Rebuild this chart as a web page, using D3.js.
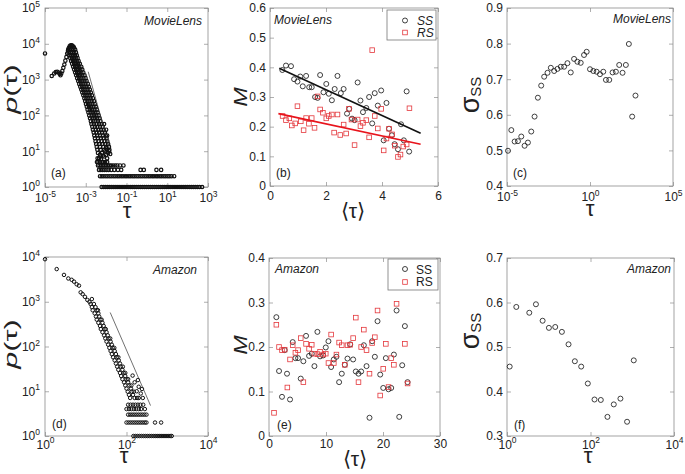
<!DOCTYPE html>
<html><head><meta charset="utf-8">
<script src="https://cdn.jsdelivr.net/npm/d3@7"></script>
<style>body{margin:0;background:#fff;} svg{display:block;} text{font-family:"Liberation Sans",Arial,Helvetica,sans-serif;fill:#222;}</style>
</head><body><svg id="chart" width="685" height="474"></svg>
<script>
// ---------------- DATA ----------------
// (a) MovieLens p(tau): values stored as log10 exponents
const aSparseTauExp = [-5.0,-4.67,-4.55,-4.47,-4.40,-4.34,-4.28,-4.24,-4.20,-4.15,-4.10,-4.05,-4.00,-3.95,-3.91,-3.87,-3.83,-3.79,-3.75,-3.71,-3.67,-3.63,-3.58];
const aSparsePExp   = [3.73,3.10,3.17,3.21,3.22,3.20,3.16,3.12,3.17,3.24,3.33,3.42,3.53,3.63,3.73,3.81,3.88,3.93,3.95,3.96,3.95,3.93,3.90];
const aBandPExp = [3.84,3.76,3.68,3.60,3.52,3.44,3.36,3.28,3.20,3.12,3.04,2.96,2.88,2.80,2.72,2.64,2.56,2.48,2.40,2.32,2.24,2.16,2.08,2.00,1.92,1.84,1.76,1.68,1.60,1.52,1.44,1.36,1.28,1.20,1.12,1.04];
const aBandTauExp = [
 [-3.86,-3.78,-3.70,-3.61,-3.52],[-3.85,-3.75,-3.66,-3.57,-3.48],[-3.80,-3.71,-3.62,-3.53,-3.44],[-3.76,-3.67,-3.58,-3.49,-3.40],
 [-3.72,-3.62,-3.53,-3.44,-3.35],[-3.67,-3.57,-3.48,-3.38,-3.29],[-3.62,-3.52,-3.43,-3.32,-3.22],[-3.57,-3.47,-3.38,-3.27,-3.17],
 [-3.52,-3.42,-3.33,-3.22,-3.12],[-3.47,-3.37,-3.28,-3.17,-3.06],[-3.42,-3.32,-3.22,-3.11,-3.01],[-3.37,-3.27,-3.17,-3.06,-2.96],
 [-3.32,-3.22,-3.12,-3.01,-2.90],[-3.27,-3.17,-3.07,-2.96,-2.85],[-3.22,-3.12,-3.02,-2.91,-2.80],[-3.17,-3.07,-2.97,-2.86,-2.75],
 [-3.12,-3.02,-2.92,-2.81,-2.70],[-3.07,-2.97,-2.87,-2.76,-2.65],[-3.03,-2.92,-2.82,-2.71,-2.60],[-2.99,-2.88,-2.78,-2.67,-2.56],
 [-2.95,-2.84,-2.74,-2.62,-2.51],[-2.91,-2.80,-2.69,-2.57,-2.46],[-2.87,-2.76,-2.65,-2.53,-2.42],[-2.83,-2.71,-2.60,-2.48,-2.37],
 [-2.79,-2.67,-2.56,-2.44,-2.32],[-2.75,-2.63,-2.52,-2.40,-2.28],[-2.72,-2.60,-2.47,-2.34,-2.22,-2.10],[-2.68,-2.55,-2.43,-2.30,-2.17],
 [-2.65,-2.51,-2.38,-2.25,-2.12,-2.00],[-2.61,-2.47,-2.34,-2.20,-2.06],[-2.58,-2.44,-2.30,-2.16,-2.02,-1.95],[-2.55,-2.40,-2.26,-2.12,-1.98],
 [-2.52,-2.37,-2.22,-2.08,-1.94],[-2.49,-2.33,-2.18,-2.04,-1.90],[-2.46,-2.30,-2.14,-2.00,-1.86],[-2.43,-2.27,-2.10,-1.97,-1.84]
];
const aTailTauExp = [-2.40,-2.30,-2.20,-2.10,-2.00,-1.90,-2.35,-2.25,-1.95,-1.85,-2.05,-2.15,-1.98,-2.28,-2.42,-1.80];
const aTailPExp   = [0.95,0.90,0.95,0.85,0.90,0.95,0.80,0.78,0.80,1.00,1.00,0.88,1.08,0.85,0.80,0.92];
const aRowP = [5,4,3,2,1];
const aRowTauExp = [
 [-2.45,-2.38,-2.30,-2.22,-2.15,-2.05,-1.95],
 [-2.40,-2.32,-2.24,-2.16,-2.08,-2.00,-1.92,-1.84,-1.76,-1.66,-1.55,-1.45,-1.32,-1.15],
 [-2.35,-2.26,-2.17,-2.08,-1.98,-1.88,-1.75,-1.60,-1.42,-1.26,-0.31,-0.15,0.47,0.70],
 [-2.30,-2.21,-2.12,-2.02,-1.93,-1.83,-1.74,-1.64,-1.55,-1.45,-1.36,-1.26,-1.17,-1.07,-0.98,-0.88,-0.79,-0.69,-0.60,-0.50,-0.41,-0.31,-0.22,-0.12,-0.03,0.07,0.16,0.26,0.35,0.45,0.54,0.64,0.73,0.83,0.92,1.02,1.11,1.21,1.34],
 [-2.22,-2.12,-2.02,-1.92,-1.82,-1.72,-1.62,-1.52,-1.42,-1.32,-1.22,-1.12,-1.02,-0.92,-0.82,-0.72,-0.62,-0.52,-0.42,-0.32,-0.22,-0.12,-0.02,0.08,0.18,0.28,0.38,0.48,0.58,0.68,0.78,0.88,0.98,1.08,1.18,1.28,1.38,1.48,1.58,1.68,1.78,1.88,1.98,2.08,2.18,2.28,2.38,2.48,2.58,2.71]
];
const aGuideTauExp = [-2.88,-1.85];
const aGuidePExp = [3.22,1.12];
const aXTicks = [1e-5,1e-3,1e-1,1e1,1e3];
const aYTicks = [1,10,100,1e3,1e4,1e5];

// (b) MovieLens M vs <tau>
const bSSx = [0.44,0.57,0.75,0.86,0.98,1.08,1.17,1.29,1.40,1.49,1.61,1.70,1.79,1.91,2.01,2.10,2.21,2.31,2.41,2.53,2.63,2.75,2.83,2.93,3.02,3.13,3.23,3.32,3.44,3.54,3.65,3.74,3.85,3.97,4.06,4.16,4.25,4.35,4.45,4.57,4.68,4.78,4.88,4.97];
const bSSy = [0.391,0.406,0.404,0.36,0.352,0.369,0.336,0.371,0.333,0.333,0.30,0.297,0.374,0.316,0.344,0.311,0.289,0.327,0.371,0.313,0.327,0.244,0.26,0.227,0.222,0.349,0.288,0.249,0.263,0.30,0.211,0.313,0.271,0.322,0.154,0.28,0.193,0.171,0.141,0.124,0.208,0.154,0.319,0.116];
const bRSx = [0.45,0.57,0.69,0.78,0.90,0.98,1.10,1.20,1.29,1.39,1.49,1.59,1.70,1.79,1.89,2.01,2.10,2.21,2.29,2.41,2.51,2.63,2.72,2.82,2.91,3.02,3.13,3.23,3.32,3.44,3.54,3.65,3.74,3.85,3.97,4.06,4.16,4.25,4.36,4.46,4.57,4.66,4.76,4.88,4.98];
const bRSy = [0.236,0.222,0.228,0.204,0.211,0.269,0.218,0.188,0.229,0.21,0.229,0.196,0.302,0.258,0.247,0.228,0.236,0.241,0.18,0.241,0.172,0.207,0.177,0.26,0.224,0.138,0.224,0.202,0.213,0.222,0.164,0.458,0.236,0.194,0.26,0.12,0.16,0.193,0.174,0.136,0.098,0.106,0.133,0.14,0.262];
const bSSFitX = [0.33,5.38], bSSFitY = [0.397,0.178];
const bRSFitX = [0.30,5.38], bRSFitY = [0.244,0.141];
const bXTicks = [0,2,4,6];
const bYTicks = [0,0.1,0.2,0.3,0.4,0.5,0.6];

// (c) MovieLens sigma_SS
const cTauExp = [-4.94,-4.74,-4.54,-4.34,-4.14,-3.94,-3.74,-3.54,-3.34,-3.14,-2.94,-2.76,-2.56,-2.36,-2.16,-1.96,-1.76,-1.56,-1.36,-1.16,-0.96,-0.76,-0.56,-0.36,-0.2,0.0,0.2,0.4,0.6,0.8,0.96,1.16,1.36,1.56,1.76,1.96,2.16,2.34,2.54,2.74];
const cSigma = [0.499,0.557,0.525,0.526,0.539,0.513,0.522,0.553,0.595,0.648,0.682,0.707,0.718,0.732,0.723,0.729,0.735,0.735,0.745,0.719,0.757,0.749,0.746,0.768,0.777,0.728,0.723,0.721,0.714,0.721,0.698,0.698,0.719,0.721,0.74,0.718,0.74,0.799,0.595,0.654];
const cXTicks = [1e-5,1,1e5];
const cYTicks = [0.4,0.5,0.6,0.7,0.8,0.9];

// (d) Amazon p(tau)
const dSparseTauExp = [0.0,0.287,0.466,0.572,0.655,0.712,0.777,0.834,0.875,0.924,0.98,1.04,1.09,1.15];
const dSparsePExp   = [3.95,3.73,3.60,3.52,3.49,3.45,3.39,3.36,3.21,3.17,3.11,3.04,3.00,3.06];
const dBandPExp = [2.95,2.88,2.81,2.74,2.67,2.60,2.53,2.46,2.39,2.32,2.25,2.18,2.11,2.04,1.97,1.90,1.83,1.76,1.69,1.62,1.55,1.48,1.41,1.34,1.27,1.20,1.13,1.06,0.99,0.92,0.85];
const dBandTauExp = [
 [1.12,1.20],[1.15,1.24],[1.17,1.27,1.30],[1.22,1.31],[1.25,1.33],[1.27,1.36,1.39],[1.31,1.41],[1.35,1.44],
 [1.37,1.46,1.49],[1.41,1.51],[1.45,1.54],[1.48,1.56,1.60],[1.51,1.61],[1.55,1.64],[1.58,1.66,1.70],[1.61,1.71],
 [1.64,1.74],[1.67,1.76,1.80],[1.71,1.81],[1.74,1.84],[1.77,1.86,1.91],[1.80,1.90],[1.84,1.93,1.97],[1.87,1.97],
 [1.90,2.00,2.04],[1.94,2.04],[1.97,2.07,2.12],[2.00,2.11],[2.03,2.13,2.18],[2.06,2.16],[2.09,2.20,2.26]
];
const dTailTauExp = [2.25,2.35,2.30,2.20,2.40,2.15,2.30,2.28,2.38];
const dTailPExp   = [1.00,0.95,1.10,1.20,0.85,1.35,0.85,1.25,1.05];
const dRowP = [5,4,3,2,1];
const dRowTauExp = [
 [2.04,2.10,2.16,2.22,2.28,2.34,2.41],
 [2.00,2.06,2.12,2.18,2.24,2.30,2.36,2.45],
 [2.04,2.09,2.14,2.19,2.24,2.29,2.34,2.39,2.44,2.49],
 [2.00,2.05,2.10,2.15,2.20,2.25,2.30,2.35,2.40,2.45,2.49,2.70,2.85],
 [2.17,2.22,2.27,2.32,2.37,2.42,2.47,2.52,2.57,2.62,2.67,2.72,2.77,2.82,2.87,2.92,2.97,3.02,3.07,3.11]
];
const dGuideTauExp = [1.60,2.59];
const dGuidePExp = [2.76,0.68];
const dXTicks = [1,100,1e4];
const dYTicks = [1,10,100,1e3,1e4];

// (e) Amazon M vs <tau>
const eSSx = [1.29,1.76,2.28,2.75,3.16,3.69,4.16,4.63,5.10,5.57,6.03,6.50,7.03,7.50,7.97,8.49,8.96,9.49,9.96,10.43,10.90,11.37,11.83,12.30,12.77,13.30,13.77,14.24,14.76,15.23,15.70,16.17,16.64,17.11,17.63,18.10,18.57,19.04,19.51,20.04,20.50,20.97,21.44,21.91,22.38,22.85,23.37,23.84,24.31];
const eSSy = [0.267,0.146,0.088,0.193,0.14,0.082,0.211,0.175,0.175,0.129,0.168,0.225,0.18,0.185,0.157,0.234,0.179,0.181,0.199,0.213,0.155,0.172,0.178,0.121,0.14,0.16,0.174,0.206,0.172,0.145,0.14,0.145,0.204,0.157,0.041,0.213,0.178,0.258,0.138,0.108,0.175,0.105,0.108,0.183,0.282,0.043,0.159,0.247,0.121];
const eRSx = [0.88,1.29,1.76,2.28,2.75,3.22,3.69,4.16,4.63,5.10,5.57,6.03,6.50,7.03,7.50,7.97,8.49,8.96,9.49,9.96,10.43,10.90,11.37,11.83,12.30,12.77,13.30,13.77,14.24,14.76,15.23,15.70,16.17,16.64,17.11,17.63,18.10,18.57,19.04,19.51,20.04,20.50,20.97,21.44,21.91,22.38,23.84,24.31];
const eRSy = [0.052,0.25,0.2,0.193,0.194,0.109,0.172,0.204,0.187,0.193,0.22,0.121,0.207,0.196,0.205,0.185,0.184,0.189,0.183,0.185,0.164,0.228,0.164,0.183,0.21,0.204,0.16,0.204,0.205,0.22,0.266,0.121,0.2,0.239,0.193,0.14,0.209,0.222,0.282,0.091,0.151,0.207,0.11,0.175,0.16,0.297,0.207,0.118];
const eXTicks = [0,10,20,30];
const eYTicks = [0,0.1,0.2,0.3,0.4];

// (f) Amazon sigma_SS
const fTauExp = [0.064,0.223,0.534,0.693,0.853,1.004,1.155,1.315,1.474,1.625,1.777,1.936,2.096,2.247,2.406,2.558,2.717,2.876,3.036];
const fSigma = [0.456,0.59,0.577,0.596,0.559,0.543,0.545,0.534,0.506,0.468,0.456,0.418,0.382,0.381,0.343,0.371,0.384,0.332,0.47];
const fXTicks = [1,100,1e4];
const fYTicks = [0.3,0.4,0.5,0.6,0.7];

// ---------------- LAYOUT ----------------
const BOX = {
  a:{l:45,r:208,t:8,b:187,xp:6.5}, b:{l:270,r:438,t:8,b:186,xp:5}, c:{l:507,r:673,t:8,b:186,xp:6.5},
  d:{l:45,r:208,t:257,b:436,xp:4}, e:{l:269,r:440,t:258,b:436,xp:3.5}, f:{l:507,r:674,t:258,b:436,xp:4}
};
const RED = '#e4373c', REDLINE = '#e8141c', AXC = '#8c8c8c';
const svg = d3.select('#chart');
const p10 = e => Math.pow(10, e);

function supText(sel) {
  sel.each(function(d){
    const t = d3.select(this); const e = Math.round(Math.log10(d));
    t.text(null);
    t.append('tspan').text('10');
    t.append('tspan').attr('dy','-0.62em').attr('font-size','8.5px').text(e);
  });
}

function frame(B, x, y, xt, yt, xLog, yLog, xfmt, yfmt) {
  const g = svg.append('g');
  g.append('rect').attr('x',B.l).attr('y',B.t).attr('width',B.r-B.l).attr('height',B.b-B.t)
    .attr('fill','#fff').attr('stroke',AXC).attr('stroke-width',0.8);
  const st = s => { s.select('.domain').remove();
    s.selectAll('.tick line').attr('stroke',AXC).attr('stroke-width',0.7);
    s.selectAll('text').attr('fill','#222').attr('font-size','12px').attr('font-family','"Liberation Sans",Arial,sans-serif'); };
  const gb = g.append('g').attr('transform',`translate(0,${B.b})`)
    .call(d3.axisBottom(x).tickValues(xt).tickSizeInner(-4).tickSizeOuter(0).tickPadding(B.xp).tickFormat(xfmt||(d=>d))).call(st);
  const gl = g.append('g').attr('transform',`translate(${B.l},0)`)
    .call(d3.axisLeft(y).tickValues(yt).tickSizeInner(-4).tickSizeOuter(0).tickPadding(yLog?8:4).tickFormat(yfmt||(d=>d))).call(st);
  g.append('g').attr('transform',`translate(0,${B.t})`)
    .call(d3.axisTop(x).tickValues(xt).tickSizeInner(-4).tickSizeOuter(0).tickFormat('')).call(st);
  g.append('g').attr('transform',`translate(${B.r},0)`)
    .call(d3.axisRight(y).tickValues(yt).tickSizeInner(-4).tickSizeOuter(0).tickFormat('')).call(st);
  if (xLog) gb.selectAll('.tick text').call(supText);
  if (yLog) gl.selectAll('.tick text').call(supText).attr('text-anchor','end').attr('dx','3');
  return g;
}

function circles(g, pts, x, y, r, color, sw) {
  g.append('g').selectAll('circle').data(pts).join('circle')
    .attr('cx',d=>x(d[0])).attr('cy',d=>y(d[1])).attr('r',r)
    .attr('fill','none').attr('stroke',color).attr('stroke-width',sw||0.8);
}
function squares(g, pts, x, y, s, color) {
  g.append('g').selectAll('rect').data(pts).join('rect')
    .attr('x',d=>x(d[0])-s/2).attr('y',d=>y(d[1])-s/2).attr('width',s).attr('height',s)
    .attr('fill','none').attr('stroke',color).attr('stroke-width',0.8);
}
function label(g, txt, x, y, opts={}) {
  return g.append('text').attr('x',x).attr('y',y).attr('font-size',opts.size||12)
    .attr('font-style',opts.italic?'italic':null).attr('text-anchor',opts.anchor||'start').text(txt);
}
function ylabP(g, bx, cy) {
  const t = g.append('text').attr('transform',`translate(${bx},${cy}) rotate(-90) scale(1.7,1)`)
    .attr('text-anchor','middle').attr('font-size',18);
  t.append('tspan').attr('font-style','italic').text('p');
  t.append('tspan').text('(\u03C4)');
}
function ylabM(g, bx, cy) {
  g.append('text').attr('transform',`translate(${bx},${cy}) rotate(-90) scale(1.3,1)`)
    .attr('text-anchor','middle').attr('font-size',18).attr('font-style','italic').text('M');
}
function ylabSigma(g, bx, cy) {
  const t = g.append('text').attr('transform',`translate(${bx},${cy}) rotate(-90)`)
    .attr('text-anchor','middle').attr('font-size',27);
  t.append('tspan').text('\u03C3');
  t.append('tspan').attr('font-size',15).attr('dy',2).text('SS');
}
function xlabTau(g, cx, by) {
  g.append('text').attr('x',cx).attr('y',by).attr('text-anchor','middle').attr('font-size',22).text('\u03C4');
}
function xlabMean(g, cx, by) {
  g.append('text').attr('x',cx).attr('y',by).attr('text-anchor','middle').attr('font-size',21).text('\u27E8\u03C4\u27E9');
}
function logPts(tx, px) { return tx.map((t,i)=>[p10(t), p10(px[i])]); }

// ---------------- PANEL (a) ----------------
{
  const B = BOX.a;
  const x = d3.scaleLog().domain([1e-5,1e3]).range([B.l,B.r]);
  const y = d3.scaleLog().domain([1,1e5]).range([B.b,B.t]);
  const g = frame(B, x, y, aXTicks, aYTicks, true, true);
  let pts = logPts(aSparseTauExp, aSparsePExp);
  aBandPExp.forEach((p,i)=>aBandTauExp[i].forEach(t=>pts.push([p10(t),p10(p)])));
  pts = pts.concat(logPts(aTailTauExp, aTailPExp));
  aRowP.forEach((p,i)=>aRowTauExp[i].forEach(t=>pts.push([p10(t),p])));
  circles(g, pts, x, y, 1.7, '#111', 1.2);
  g.append('line').attr('x1',x(p10(aGuideTauExp[0]))).attr('y1',y(p10(aGuidePExp[0])))
    .attr('x2',x(p10(aGuideTauExp[1]))).attr('y2',y(p10(aGuidePExp[1]))).attr('stroke','#333').attr('stroke-width',0.7);
  label(g,'MovieLens',202,25,{italic:true,anchor:'end'});
  label(g,'(a)',51,177);
  ylabP(g, 17, 89);
  xlabTau(g, 127, 218);
}
// ---------------- PANEL (b) ----------------
{
  const B = BOX.b;
  const x = d3.scaleLinear().domain([0,6]).range([B.l,B.r]);
  const y = d3.scaleLinear().domain([0,0.6]).range([B.b,B.t]);
  const g = frame(B, x, y, bXTicks, bYTicks, false, false, d=>d, d=>d===0?'0':d3.format('.1f')(d));
  const line = d3.line().x(d=>x(d[0])).y(d=>y(d[1]));
  circles(g, d3.zip(bSSx,bSSy), x, y, 2.5, '#111');
  squares(g, d3.zip(bRSx,bRSy), x, y, 4.6, RED);
  g.append('path').attr('d',line(d3.zip(bSSFitX,bSSFitY))).attr('stroke','#111').attr('stroke-width',1.6).attr('fill','none');
  g.append('path').attr('d',line(d3.zip(bRSFitX,bRSFitY))).attr('stroke',REDLINE).attr('stroke-width',1.6).attr('fill','none');
  const L = g.append('g');
  L.append('rect').attr('x',387).attr('y',10).attr('width',49).attr('height',30).attr('fill','#fff').attr('stroke','#777').attr('stroke-width',0.8);
  circles(L, [[0,0]], ()=>405, ()=>20.5, 2.5, '#111');
  squares(L, [[0,0]], ()=>405, ()=>32.5, 4.6, RED);
  label(L,'SS',417,25,{italic:true});
  label(L,'RS',417,37,{italic:true});
  label(g,'MovieLens',274,23.5,{italic:true});
  label(g,'(b)',276,177);
  ylabM(g, 247, 97);
  xlabMean(g, 353, 218);
}
// ---------------- PANEL (c) ----------------
{
  const B = BOX.c;
  const x = d3.scaleLog().domain([1e-5,1e5]).range([B.l,B.r]);
  const y = d3.scaleLinear().domain([0.4,0.9]).range([B.b,B.t]);
  const g = frame(B, x, y, cXTicks, cYTicks, true, false, null, d3.format('.1f'));
  circles(g, cTauExp.map((t,i)=>[p10(t), cSigma[i]]), x, y, 2.5, '#111');
  label(g,'MovieLens',671,23,{italic:true,anchor:'end'});
  label(g,'(c)',513,177);
  ylabSigma(g, 479, 95);
  xlabTau(g, 590, 216);
}
// ---------------- PANEL (d) ----------------
{
  const B = BOX.d;
  const x = d3.scaleLog().domain([1,1e4]).range([B.l,B.r]);
  const y = d3.scaleLog().domain([1,1e4]).range([B.b,B.t]);
  const g = frame(B, x, y, dXTicks, dYTicks, true, true);
  let pts = logPts(dSparseTauExp, dSparsePExp);
  dBandPExp.forEach((p,i)=>dBandTauExp[i].forEach(t=>pts.push([p10(t),p10(p)])));
  pts = pts.concat(logPts(dTailTauExp, dTailPExp));
  dRowP.forEach((p,i)=>dRowTauExp[i].forEach(t=>pts.push([p10(t),p])));
  circles(g, pts, x, y, 1.75, '#111', 1.0);
  g.append('line').attr('x1',x(p10(dGuideTauExp[0]))).attr('y1',y(p10(dGuidePExp[0])))
    .attr('x2',x(p10(dGuideTauExp[1]))).attr('y2',y(p10(dGuidePExp[1]))).attr('stroke','#333').attr('stroke-width',0.7);
  label(g,'Amazon',197,274,{italic:true,anchor:'end'});
  label(g,'(d)',52,428);
  ylabP(g, 17, 344);
  xlabTau(g, 124, 463);
}
// ---------------- PANEL (e) ----------------
{
  const B = BOX.e;
  const x = d3.scaleLinear().domain([0,30]).range([B.l,B.r]);
  const y = d3.scaleLinear().domain([0,0.4]).range([B.b,B.t]);
  const g = frame(B, x, y, eXTicks, eYTicks, false, false, d=>d, d=>d===0?'0':d3.format('.1f')(d));
  circles(g, d3.zip(eSSx,eSSy), x, y, 2.5, '#111');
  squares(g, d3.zip(eRSx,eRSy), x, y, 4.6, RED);
  const L = g.append('g');
  L.append('rect').attr('x',388).attr('y',259).attr('width',50).attr('height',31).attr('fill','#fff').attr('stroke','#777').attr('stroke-width',0.8);
  circles(L, [[0,0]], ()=>405, ()=>269, 2.5, '#111');
  squares(L, [[0,0]], ()=>405, ()=>282, 4.6, RED);
  label(L,'SS',416,273.5);
  label(L,'RS',416,286);
  label(g,'Amazon',275,272.5,{italic:true});
  label(g,'(e)',277,429);
  ylabM(g, 247, 345);
  xlabMean(g, 355, 466);
}
// ---------------- PANEL (f) ----------------
{
  const B = BOX.f;
  const x = d3.scaleLog().domain([1,1e4]).range([B.l,B.r]);
  const y = d3.scaleLinear().domain([0.3,0.7]).range([B.b,B.t]);
  const g = frame(B, x, y, fXTicks, fYTicks, true, false, null, d3.format('.1f'));
  circles(g, fTauExp.map((t,i)=>[p10(t), fSigma[i]]), x, y, 2.5, '#111');
  label(g,'Amazon',671,273,{italic:true,anchor:'end'});
  label(g,'(f)',514,429);
  ylabSigma(g, 479, 331);
  xlabTau(g, 588, 463);
}
</script></body></html>
